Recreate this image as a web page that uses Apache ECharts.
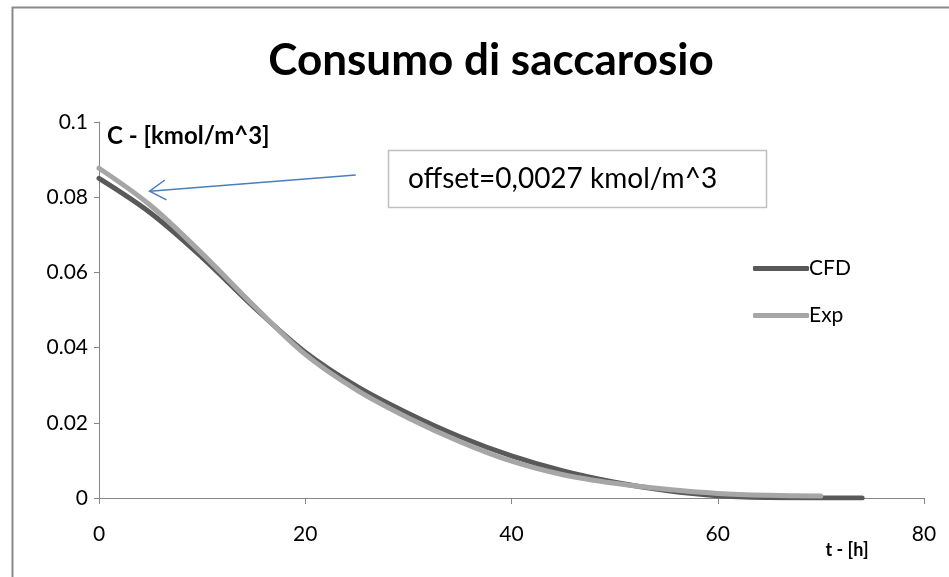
<!DOCTYPE html>
<html>
<head>
<meta charset="utf-8">
<script src="https://cdn.jsdelivr.net/npm/echarts@6/dist/echarts.min.js"></script>
<style>
html,body{margin:0;padding:0;background:#fff;}
#chart{width:949px;height:577px;}
</style>
</head>
<body>
<div id="chart"></div>
<script>
// ---- data ----
var title = 'Consumo di saccarosio';
var seriesNames = ['CFD', 'Exp'];
var cfdT = [0, 5, 10, 15, 20, 25, 30, 35, 40, 45, 50, 55, 60, 65, 70, 74];
var cfdC = [0.0850, 0.0758, 0.0640, 0.0508, 0.0388, 0.0297, 0.0225, 0.0163, 0.0112, 0.0072, 0.0042, 0.0020, 0.0006, 0.0001, 0.0000, 0.0000];
var expT = [0, 5, 10, 15, 20, 25, 30, 35, 40, 45, 50, 55, 60, 65, 70];
var expC = [0.0877, 0.0778, 0.0650, 0.0512, 0.0382, 0.0287, 0.0213, 0.0150, 0.0098, 0.0062, 0.0039, 0.0023, 0.0012, 0.0007, 0.0005];
var xTicks = [0, 20, 40, 60, 80];
var yTicks = [0, 0.02, 0.04, 0.06, 0.08, 0.1];
var yName = 'C - [kmol/m^3]';
var xName = 't - [h]';
var noteText = 'offset=0,0027 kmol/m^3';
var arrowFrom = [24.9, 0.0859];
var arrowTo = [4.9, 0.0816];

function pairs(xs, ys) { return xs.map(function (x, i) { return [x, ys[i]]; }); }

var FONT = 'Lato';
var chart = echarts.init(document.getElementById('chart'), null, {renderer: 'canvas'});
var option = {
  animation: false,
  backgroundColor: '#fff',
  textStyle: {fontFamily: FONT},
  title: {
    text: title, left: 486, top: 34, textAlign: 'center',
    textStyle: {fontFamily: FONT, fontSize: 44, fontWeight: 'bold', color: '#000'}
  },
  grid: {left: 99, right: 25, top: 122, bottom: 79, containLabel: false},
  legend: {
    orient: 'vertical', left: 748, top: 253, itemGap: 26,
    itemWidth: 56, itemHeight: 5, icon: 'roundRect',
    textStyle: {fontFamily: FONT, fontSize: 21, color: '#000', padding: [0, 0, 0, -5]},
    data: seriesNames
  },
  xAxis: {
    type: 'value', min: xTicks[0], max: xTicks[xTicks.length - 1], interval: 20,
    splitLine: {show: false},
    axisLine: {lineStyle: {color: '#868686', width: 1}},
    axisTick: {show: true, inside: false, length: 6, lineStyle: {color: '#868686'}},
    axisLabel: {fontFamily: FONT, fontSize: 21, color: '#000', margin: 26},
    name: xName, nameLocation: 'end', nameGap: -77,
    nameTextStyle: {fontFamily: FONT, fontSize: 18, fontWeight: 'bold', color: '#000',
      align: 'center', verticalAlign: 'top', padding: [43, 0, 0, 0]}
  },
  yAxis: {
    type: 'value', min: yTicks[0], max: yTicks[yTicks.length - 1], interval: 0.02,
    splitLine: {show: false},
    axisLine: {show: true, lineStyle: {color: '#868686', width: 1}},
    axisTick: {show: true, inside: false, length: 5, lineStyle: {color: '#868686'}},
    axisLabel: {fontFamily: FONT, fontSize: 21, color: '#000', margin: 11},
    name: yName, nameLocation: 'end', nameGap: -14,
    nameTextStyle: {fontFamily: FONT, fontSize: 24, fontWeight: 'bold', color: '#000',
      align: 'left', verticalAlign: 'middle', padding: [0, 0, 0, 8]}
  },
  series: [
    {
      name: seriesNames[0], type: 'line', data: pairs(cfdT, cfdC),
      smooth: 0.35,
      showSymbol: false, symbol: 'none', z: 2,
      lineStyle: {color: '#595959', width: 5, cap: 'round'},
      itemStyle: {color: '#595959'}
    },
    {
      name: seriesNames[1], type: 'line', data: pairs(expT, expC),
      smooth: 0.35,
      showSymbol: false, symbol: 'none', z: 3,
      lineStyle: {color: '#a6a6a6', width: 5, cap: 'round'},
      itemStyle: {color: '#a6a6a6'}
    }
  ]
};
chart.setOption(option);

var p1 = chart.convertToPixel({gridIndex: 0}, arrowFrom);
var p2 = chart.convertToPixel({gridIndex: 0}, arrowTo);
var ang = Math.atan2(p1[1] - p2[1], p1[0] - p2[0]);
var hl = 19, ha = 0.55;
var a1 = [p2[0] + hl * Math.cos(ang + ha), p2[1] + hl * Math.sin(ang + ha)];
var a2 = [p2[0] + hl * Math.cos(ang - ha), p2[1] + hl * Math.sin(ang - ha)];

chart.setOption({
  graphic: [
    {type: 'rect', left: 10, top: 5, shape: {width: 1000, height: 1000},
      style: {fill: 'none', stroke: '#898989', lineWidth: 2}, silent: true, z: -1},
    {type: 'line', shape: {x1: p1[0], y1: p1[1], x2: p2[0], y2: p2[1]},
      style: {stroke: '#4a7ebb', lineWidth: 1.5}, z: 10},
    {type: 'polyline', shape: {points: [a1, p2, a2]},
      style: {stroke: '#4a7ebb', lineWidth: 1.5, fill: 'none'}, z: 10},
    {type: 'rect', shape: {x: 388.5, y: 150.5, width: 378, height: 57},
      style: {fill: '#fff', stroke: '#bfbfbf', lineWidth: 1.5}, z: 10},
    {type: 'text', x: 408, y: 179, z: 11,
      style: {text: noteText, fontFamily: FONT, fontSize: 28, fill: '#000',
        verticalAlign: 'middle', align: 'left'}}
  ]
});
</script>
</body>
</html>
